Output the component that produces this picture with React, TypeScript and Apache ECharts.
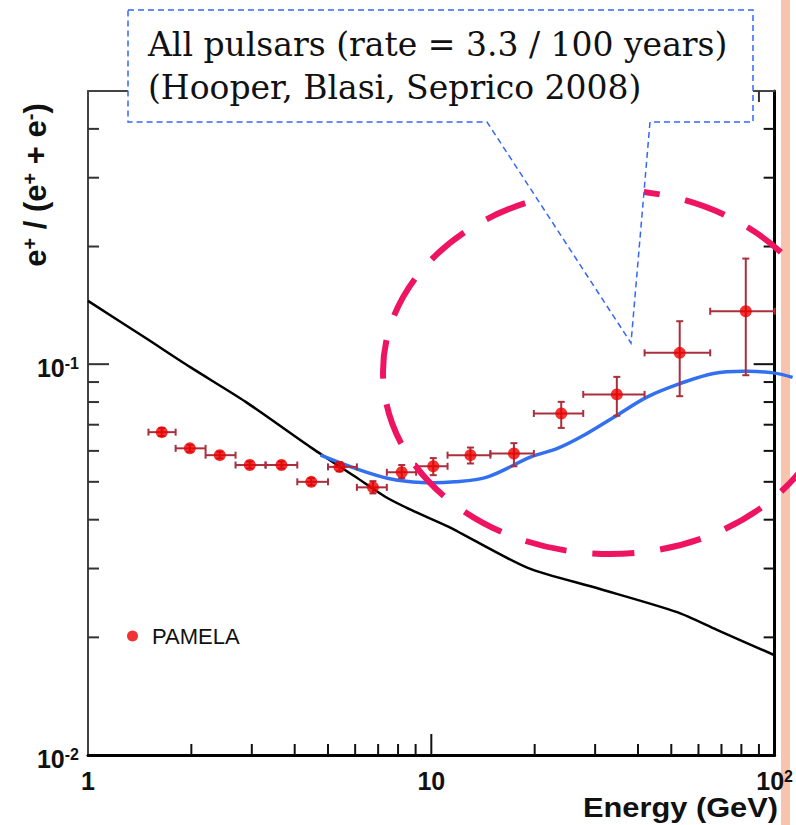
import React, { useEffect, useRef } from 'react';
import * as echarts from 'echarts';

// PAMELA positron fraction data points
const energy = [1.64, 1.98, 2.42, 2.96, 3.66, 4.47, 5.40, 6.76, 8.20, 10.13, 13.0, 17.4, 23.9, 34.7, 52.9, 82.4];
const ratio = [0.0670, 0.0609, 0.0585, 0.0552, 0.0552, 0.0500, 0.0546, 0.0484, 0.0529, 0.0548, 0.0585, 0.0591, 0.0748, 0.0837, 0.1069, 0.1366];
const energyLow = [1.50, 1.80, 2.20, 2.69, 3.29, 4.07, 5.00, 6.07, 7.42, 9.03, 11.15, 14.86, 19.89, 27.7, 41.8, 64.9];
const energyHigh = [1.80, 2.20, 2.69, 3.29, 4.07, 5.00, 6.07, 7.42, 9.03, 11.15, 14.86, 19.89, 27.7, 41.8, 64.9, 100];
const ratioLow = [0.0655, 0.0597, 0.0574, 0.0541, 0.0541, 0.0490, 0.0532, 0.0467, 0.0511, 0.0520, 0.0557, 0.0548, 0.0687, 0.0738, 0.0828, 0.0937];
const ratioHigh = [0.0686, 0.0622, 0.0597, 0.0564, 0.0564, 0.0511, 0.0561, 0.0502, 0.0552, 0.0575, 0.0612, 0.0628, 0.0801, 0.0928, 0.1288, 0.1863];

// Secondary-production background (black curve)
const bgEnergy = [1.0, 1.48, 1.98, 2.88, 4.50, 6.01, 7.34, 8.77, 11.2, 19.1, 30.5, 52.0, 67.9, 100];
const bgRatio = [0.1452, 0.1163, 0.0984, 0.0801, 0.0609, 0.0515, 0.0458, 0.0423, 0.0384, 0.0301, 0.0267, 0.0232, 0.0209, 0.0180];

// All-pulsars model (blue curve), runs slightly past the right frame
const pulsarEnergy = [4.76, 6.01, 7.51, 9.38, 11.7, 14.6, 19.5, 23.3, 27.3, 34.1, 42.6, 53.2, 66.4, 83.0, 99.1, 112.8];
const pulsarRatio = [0.0585, 0.0541, 0.0510, 0.0498, 0.0500, 0.0515, 0.0579, 0.0609, 0.0652, 0.0733, 0.0825, 0.0893, 0.0947, 0.0959, 0.0950, 0.0925];

// Axis ticks and labels
const xLabelValues = [1, 10, 100];
const xLabelTexts = ['1', '10', '10^2'];
const yLabelValues = [0.01, 0.1];
const yLabelTexts = ['10^-2', '10^-1'];
const xMinorTicks = [2, 3, 4, 5, 6, 7, 8, 9, 20, 30, 40, 50, 60, 70, 80, 90];
const xMajorTicks = [10];
const yMinorTicks = [0.02, 0.03, 0.04, 0.05, 0.06, 0.07, 0.08, 0.09, 0.2, 0.3, 0.4];
const yMajorTicks = [0.1];

const calloutLines = ['All pulsars (rate = 3.3 / 100 years)', '(Hooper, Blasi, Seprico 2008)'];
const seriesName = 'PAMELA';

const SANS = '"Liberation Sans", Arial, Helvetica, sans-serif';
const SERIF = '"DejaVu Serif", Georgia, serif';

function toRich(s: string): string {
  const i = s.indexOf('^');
  if (i < 0) return '{b|' + s + '}';
  return '{b|' + s.slice(0, i) + '}{sup|' + s.slice(i + 1) + '}';
}

function labelFor(values: number[], texts: string[]) {
  return (v: number) => {
    for (let i = 0; i < values.length; i++) {
      if (Math.abs(Math.log10(v) - Math.log10(values[i])) < 1e-6) return toRich(texts[i]);
    }
    return '';
  };
}

const richLabel = {
  b: { fontSize: 25, fontWeight: 'bold', fontFamily: SANS, color: '#111' },
  sup: { fontSize: 16, fontWeight: 'bold', fontFamily: SANS, color: '#111', verticalAlign: 'top' },
};

export default function App() {
  const ref = useRef<HTMLDivElement>(null);
  useEffect(() => {
    const chart = echarts.init(ref.current as HTMLDivElement, null, { renderer: 'svg' });
    const X0 = 1, X1 = 100, Y0 = 0.01, Y1 = 0.5;

    const option: any = {
      animation: false,
      backgroundColor: 'transparent',
      grid: { left: 88, right: 18, top: 91, bottom: 70, containLabel: false },
      legend: {
        data: [seriesName],
        left: 127,
        top: 625,
        padding: 0,
        icon: 'circle',
        itemWidth: 11,
        itemHeight: 11,
        textStyle: { fontSize: 22, fontFamily: SANS, color: '#111', padding: [0, 0, 0, 9] },
      },
      xAxis: [
        {
          type: 'log', logBase: 10, min: X0, max: X1, position: 'bottom',
          axisLine: { show: true, lineStyle: { color: '#000', width: 3 } },
          axisTick: { show: false },
          splitLine: { show: false },
          minorTick: { show: false },
          axisLabel: {
            show: true, margin: 13, showMinLabel: true, showMaxLabel: true,
            formatter: labelFor(xLabelValues, xLabelTexts), rich: richLabel,
          },
        },
        {
          type: 'log', logBase: 10, min: X0, max: X1, position: 'top',
          axisLine: { show: true, lineStyle: { color: '#444', width: 2 } },
          axisTick: { show: false }, splitLine: { show: false }, axisLabel: { show: false },
        },
      ],
      yAxis: [
        {
          type: 'log', logBase: 10, min: Y0, max: Y1, position: 'left',
          axisLine: { show: true, lineStyle: { color: '#444', width: 2 } },
          axisTick: { show: false },
          splitLine: { show: false },
          axisLabel: {
            show: true, margin: 9, showMinLabel: true, showMaxLabel: true,
            formatter: labelFor(yLabelValues, yLabelTexts), rich: richLabel, padding: [8, 0, 0, 0],
          },
        },
        {
          type: 'log', logBase: 10, min: Y0, max: Y1, position: 'right',
          axisLine: { show: true, lineStyle: { color: '#000', width: 3 } },
          axisTick: { show: false }, splitLine: { show: false }, axisLabel: { show: false },
        },
      ],
      series: [
        {
          type: 'custom', name: 'yticks', silent: true, clip: false, z: 3,
          encode: { x: 0, y: 1 },
          data: [
            ...yMinorTicks.map((v) => [X0, v, 11]),
            ...yMajorTicks.map((v) => [X0, v, 21]),
          ],
          renderItem: (params: any, api: any) => {
            const v = api.value(1);
            const len = api.value(2);
            const pL = api.coord([X0, v]);
            const pR = api.coord([X1, v]);
            return {
              type: 'group',
              children: [
                { type: 'line', shape: { x1: pL[0], y1: pL[1], x2: pL[0] + len, y2: pL[1] }, style: { stroke: '#333', lineWidth: 2 } },
                { type: 'line', shape: { x1: pR[0], y1: pR[1], x2: pR[0] - len, y2: pR[1] }, style: { stroke: '#111', lineWidth: 2 } },
              ],
            };
          },
        },
        {
          type: 'custom', name: 'xticks', silent: true, clip: false, z: 3,
          encode: { x: 0, y: 1 },
          data: [
            ...xMinorTicks.map((v) => [v, Y0, 11]),
            ...xMajorTicks.map((v) => [v, Y0, 21]),
          ],
          renderItem: (params: any, api: any) => {
            const v = api.value(0);
            const len = api.value(2);
            const pB = api.coord([v, Y0]);
            const pT = api.coord([v, Y1]);
            return {
              type: 'group',
              children: [
                { type: 'line', shape: { x1: pB[0], y1: pB[1], x2: pB[0], y2: pB[1] - len }, style: { stroke: '#111', lineWidth: 2 } },
                { type: 'line', shape: { x1: pT[0], y1: pT[1], x2: pT[0], y2: pT[1] + len }, style: { stroke: '#333', lineWidth: 2 } },
              ],
            };
          },
        },
        {
          type: 'line', name: 'background', showSymbol: false, symbol: 'none', smooth: 0.25, clip: false,
          data: bgEnergy.map((e, i) => [e, bgRatio[i]]),
          lineStyle: { color: '#000', width: 2.5 }, z: 4,
        },
        {
          type: 'custom', name: 'pulsars', silent: true, clip: false, z: 5,
          encode: { x: 0, y: 1 },
          data: pulsarEnergy.map((e, i) => [e, pulsarRatio[i]]),
          renderItem: (params: any, api: any) => {
            if (params.dataIndex !== 0) return null;
            const pts = pulsarEnergy.map((e, i) => api.coord([e, pulsarRatio[i]]));
            return {
              type: 'polyline',
              shape: { points: pts, smooth: 0.35 },
              style: { stroke: '#3370F0', lineWidth: 3.5, fill: 'none' },
            };
          },
        },
        {
          type: 'custom', name: 'errors', silent: true, clip: false, z: 6,
          encode: { x: 0, y: 1 },
          data: energy.map((e, i) => [e, ratio[i], energyLow[i], energyHigh[i], ratioLow[i], ratioHigh[i]]),
          renderItem: (params: any, api: any) => {
            const x = api.value(0), y = api.value(1);
            const c = api.coord([x, y]);
            const l = api.coord([api.value(2), y]);
            const r = api.coord([api.value(3), y]);
            const lo = api.coord([x, api.value(4)]);
            const hi = api.coord([x, api.value(5)]);
            const st = { stroke: '#A8303C', lineWidth: 2 };
            const cap = 3.5;
            return {
              type: 'group',
              children: [
                { type: 'line', shape: { x1: l[0], y1: c[1], x2: r[0], y2: c[1] }, style: st },
                { type: 'line', shape: { x1: l[0], y1: c[1] - cap, x2: l[0], y2: c[1] + cap }, style: st },
                { type: 'line', shape: { x1: r[0], y1: c[1] - cap, x2: r[0], y2: c[1] + cap }, style: st },
                { type: 'line', shape: { x1: c[0], y1: lo[1], x2: c[0], y2: hi[1] }, style: st },
                { type: 'line', shape: { x1: c[0] - cap, y1: lo[1], x2: c[0] + cap, y2: lo[1] }, style: st },
                { type: 'line', shape: { x1: c[0] - cap, y1: hi[1], x2: c[0] + cap, y2: hi[1] }, style: st },
              ],
            };
          },
        },
        {
          type: 'scatter', name: seriesName, symbol: 'circle', symbolSize: 12, z: 7,
          itemStyle: { color: '#EE0000' },
          data: energy.map((e, i) => [e, ratio[i]]),
        },
      ],
      graphic: [
        {
          type: 'ellipse', z: 50, silent: true,
          shape: { cx: 610, cy: 372, rx: 227, ry: 182 },
          style: { fill: 'none', stroke: '#EE1462', lineWidth: 6, lineDash: [42, 26], lineDashOffset: 10 },
        },
        {
          type: 'polygon', z: 100, silent: true,
          shape: { points: [[128, 10], [753, 10], [753, 122], [650, 122], [631, 343], [487, 122], [128, 122]] },
          style: { fill: '#ffffff', stroke: '#3366FF', lineWidth: 1.5, lineDash: [6, 4] },
        },
        {
          type: 'text', z: 101, silent: true, x: 148, y: 66,
          style: {
            text: calloutLines.join('\n'), font: '33px ' + SERIF, lineHeight: 43,
            fill: '#111', textAlign: 'left', textVerticalAlign: 'middle',
          },
        },
        {
          type: 'text', z: 20, silent: true, x: 778, y: 807, scaleX: 1.1,
          style: { text: 'Energy (GeV)', font: 'bold 28px ' + SANS, fill: '#111', textAlign: 'right', textVerticalAlign: 'middle' },
        },
        {
          type: 'text', z: 20, silent: true, x: 35, y: 185, rotation: Math.PI / 2,
          style: {
            text: '{m|e}{s|+}{m| / (e}{s|+}{m| + e}{s|-}{m|)}',
            textAlign: 'center', textVerticalAlign: 'middle', fill: '#111',
            rich: {
              m: { fontSize: 31, fontWeight: 'bold', fontFamily: SANS, fill: '#111' },
              s: { fontSize: 20, fontWeight: 'bold', fontFamily: SANS, fill: '#111', verticalAlign: 'top' },
            },
          },
        },
      ],
    };
    chart.setOption(option);
    return () => chart.dispose();
  }, []);
  return (
    <div
      ref={ref}
      style={{
        position: 'fixed', left: 0, top: 0, width: 796, height: 825,
        background: 'linear-gradient(to right, #ffffff 0px, #ffffff 781px, #F9C4AE 781px, #F9C4AE 790px, #ffffff 790px)',
      }}
    />
  );
}
